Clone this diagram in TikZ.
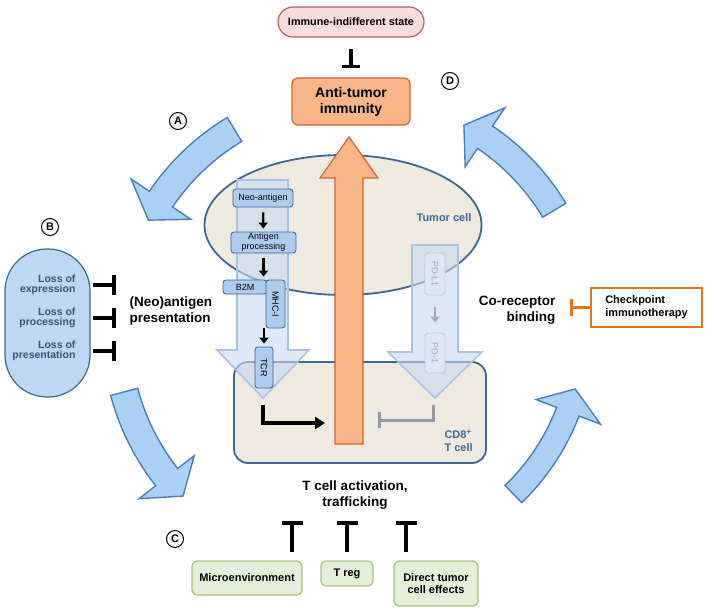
\documentclass[tikz,border=0pt]{standalone}
\usepackage{fontspec}
\setmainfont{Liberation Sans}
\usetikzlibrary{positioning, arrows.meta, shapes.geometric}

\definecolor{cellfill}{HTML}{EEEAE0}
\definecolor{cellline}{HTML}{3E6695}
\definecolor{cyclefill}{HTML}{A9D0F5}
\definecolor{cycleline}{HTML}{4A7DBA}
\definecolor{palefill}{HTML}{C6DAF1}
\definecolor{paleline}{HTML}{A7C2E2}
\definecolor{molfill}{HTML}{AECCEE}
\definecolor{ghostfill}{HTML}{DCE7F3}
\definecolor{ghostline}{HTML}{BCCBDD}
\definecolor{ghosttext}{HTML}{A3ABB5}
\definecolor{salmon}{HTML}{F8B58A}
\definecolor{salmonline}{HTML}{D2622A}
\definecolor{pinkfill}{HTML}{F6DCDD}
\definecolor{pinkline}{HTML}{BF5A5C}
\definecolor{lossfill}{HTML}{BCD8F2}
\definecolor{losstext}{HTML}{35557F}
\definecolor{greenfill}{HTML}{E4EFD9}
\definecolor{greenline}{HTML}{A3C27A}
\definecolor{checkorange}{HTML}{E8731B}

\tikzset{
  cellbody/.style={draw=cellline, line width=1.8pt, fill=cellfill},
  celltext/.style={text=cellline, font=\bfseries\fontsize{11}{13}\selectfont},
  cyc/.style={draw=cycleline, line width=1.4pt, fill=cyclefill, line join=miter},
  pale/.style={draw=paleline, line width=1.6pt, fill=palefill, fill opacity=0.6},
  mol/.style={draw=cellline, line width=0.9pt, fill=molfill, rounded corners=3pt,
    inner sep=1pt, align=center, font=\fontsize{9}{10}\selectfont},
  ghost/.style={mol, draw=ghostline, fill=ghostfill, text=ghosttext},
  stepar/.style={-{Triangle[length=6pt, width=9pt]}, line width=2.2pt},
  tbar/.style={-{Bar[width=20pt]}, line width=3.8pt},
  letter/.style={circle, draw, line width=1pt, inner sep=0pt, minimum size=17pt,
    font=\bfseries\fontsize{11}{11}\selectfont},
  biglabel/.style={align=center, font=\bfseries\fontsize{13.5}{16}\selectfont},
  losslabel/.style={align=right, anchor=east, text=losstext,
    font=\bfseries\fontsize{10.5}{10.5}\selectfont},
  greenbox/.style={draw=greenline, line width=1.2pt, fill=greenfill, rounded corners=5pt,
    align=center, font=\bfseries\fontsize{11}{12.5}\selectfont}
}

\begin{document}
\begin{tikzpicture}[x=1pt, y=-1pt]
\useasboundingbox (0,0) rectangle (711,613);

% cycle
\begin{scope}[shift={(355,330)}]
  \draw[cyc] (-121:220) arc[start angle=-121, end angle=-146, radius=220] -- (-146:198)
    -- (-152:234) -- (-146:270) -- (-146:248) arc[start angle=-146, end angle=-121, radius=248] -- cycle;
  \draw[cyc] (165:225) arc[start angle=165, end angle=142, radius=225] -- (142:204)
    -- (136:239) -- (142:274) -- (142:253) arc[start angle=142, end angle=165, radius=253] -- cycle;
  \draw[cyc] (46:216) arc[start angle=46, end angle=21, radius=216] -- (21:194)
    -- (15:228) -- (21:263) -- (21:240) arc[start angle=21, end angle=46, radius=240] -- cycle;
  \draw[cyc] (-31:219) arc[start angle=-31, end angle=-56, radius=219] -- (-56:197)
    -- (-62:232) -- (-56:268) -- (-56:246) arc[start angle=-56, end angle=-31, radius=246] -- cycle;
\end{scope}

\node[letter] (la) at (178,121) {A};
\node[letter] (lb) at (50,227) {B};
\node[letter] (lc) at (175,539) {C};
\node[letter] (ld) at (450,81) {D};

% cells
\node[cellbody, ellipse, minimum width=277pt, minimum height=140pt] (tumor) at (343,225) {};
\node[celltext] (tumorlbl) at (444,218) {Tumor cell};
\node[cellbody, rounded corners=14pt, minimum width=252pt, minimum height=101pt] (tcell) at (360,412.5) {};
\node[celltext, align=left, anchor=west] (tcelllbl) at (441,441) {CD8\textsuperscript{+}\\T cell};

\draw[pale] (237,180) -- (288,180) -- (288,350) -- (309,350) -- (263,398) -- (217,350) -- (237,350) -- cycle;
\draw[pale] (412,245) -- (458,245) -- (458,352) -- (482,352) -- (435,398) -- (388,352) -- (412,352) -- cycle;

% presentation
\node[mol, minimum width=60pt, minimum height=18pt] (neo) at (263,198) {Neo-antigen};
\node[mol, minimum width=65pt, minimum height=21pt] (proc) at (263.5,242.5) {Antigen\\processing};
\node[mol, minimum width=44pt, minimum height=14pt] (b2m) at (245,287) {B2M};
\node[mol, rotate=-90, minimum width=48pt, minimum height=19pt] (mhc) at (275.5,304) {MHC-I};
\node[mol, rotate=-90, minimum width=41pt, minimum height=18pt] (tcr) at (264,367.5) {TCR};
\draw[stepar, shorten <=5pt, shorten >=3pt] (neo) -- (proc);
\draw[stepar, shorten <=5pt, shorten >=3pt] (proc.south) -- (proc.south |- b2m.north);
\draw[stepar, shorten <=0pt, shorten >=3pt] (tcr.west |- mhc.east) -- (tcr.west);

\node[ghost, rotate=-90, minimum width=42pt, minimum height=20pt] (pdl1) at (435,274) {PD-L1};
\node[ghost, rotate=-90, minimum width=40pt, minimum height=20pt] (pd1) at (435,353) {PD-1};
\draw[-{Triangle[length=6pt, width=9pt]}, line width=2.2pt, draw=ghosttext, shorten <=12pt, shorten >=10pt] (pdl1.east) -- (pd1.west);

% signals
\draw[salmonline, fill=salmon, line width=1.2pt, line join=miter] (335,444) -- (335,178) -- (320,178)
  -- (349,137) -- (378,178) -- (363,178) -- (363,444) -- cycle;
\coordinate (tcrtip) at (263,405);
\coordinate (sig) at (325,423);
\draw[-{Triangle[length=10pt, width=12pt]}, line width=3.4pt] (tcrtip) |- (sig);
\coordinate (pdtip) at (433,405);
\coordinate (gbar) at (378,420);
\draw[-{Bar[width=16pt]}, line width=3pt, draw=ghosttext!90!black] (pdtip) |- (gbar);

% top
\node[draw=pinkline, fill=pinkfill, line width=1.2pt, rounded corners=15pt, minimum width=146pt,
  minimum height=30pt, font=\bfseries\fontsize{10.8}{12}\selectfont] (indiff) at (351,22) {Immune-indifferent state};
\node[draw=salmonline, fill=salmon, line width=1.2pt, rounded corners=6pt, minimum width=118pt,
  minimum height=47pt, align=center, font=\bfseries\fontsize{14}{16}\selectfont] (anti) at (351,101.5) {Anti-tumor\\immunity};
\draw[tbar, -{Bar[width=18pt]}, shorten <=11pt, shorten >=9pt] (indiff) -- (anti);

% left
\node[draw=cellline, fill=lossfill, line width=1.2pt, rounded corners=42pt, minimum width=85pt,
  minimum height=148pt] (losspill) at (47.5,323) {};
\node[losslabel] (lexp) at (79,285) {Loss of\\expression};
\node[losslabel] (lproc) at (79,318) {Loss of\\processing};
\node[losslabel] (lpres) at (79,351) {Loss of\\presentation};
\node[biglabel, align=left, anchor=west] (neoag) at (126,311.5) {(Neo)antigen\\presentation};
\draw[tbar, shorten >=10pt] ([xshift=14pt]lexp.east) -- (neoag.west |- lexp.east);
\draw[tbar, shorten >=10pt] ([xshift=14pt]lproc.east) -- (neoag.west |- lproc.east);
\draw[tbar, shorten >=10pt] ([xshift=14pt]lpres.east) -- (neoag.west |- lpres.east);

% right
\node[biglabel, align=right, anchor=east] (corec) at (559,310) {Co-receptor\\binding};
\node[draw=checkorange, line width=2.8pt, minimum width=111pt, minimum height=39pt, align=left,
  font=\bfseries\fontsize{11}{13}\selectfont] (chk) at (646.5,307.5) {Checkpoint\\immunotherapy};
\draw[-{Bar[width=17pt]}, line width=3pt, draw=checkorange, shorten >=11pt] (chk.west) -- (corec.east |- chk.west);

% bottom
\node[biglabel] (tact) at (355,495) {T cell activation,\\trafficking};
\node[greenbox, minimum width=110pt, minimum height=34pt] (micro) at (247,578) {Microenvironment};
\node[greenbox, minimum width=52pt, minimum height=25pt] (treg) at (347,573.5) {T reg};
\node[greenbox, minimum width=84pt, minimum height=45pt] (direct) at (436,583.5) {Direct tumor\\cell effects};
\coordinate (bar1) at (292,521);
\coordinate (bar2) at (347,521);
\coordinate (bar3) at (406,521);
\draw[tbar, -{Bar[width=21pt]}, shorten <=8pt] (bar1 |- micro.north) -- (bar1);
\draw[tbar, -{Bar[width=21pt]}, shorten <=8pt] (bar2 |- treg.north) -- (bar2);
\draw[tbar, -{Bar[width=21pt]}, shorten <=8pt] (bar3 |- direct.north) -- (bar3);
\end{tikzpicture}
\end{document}
